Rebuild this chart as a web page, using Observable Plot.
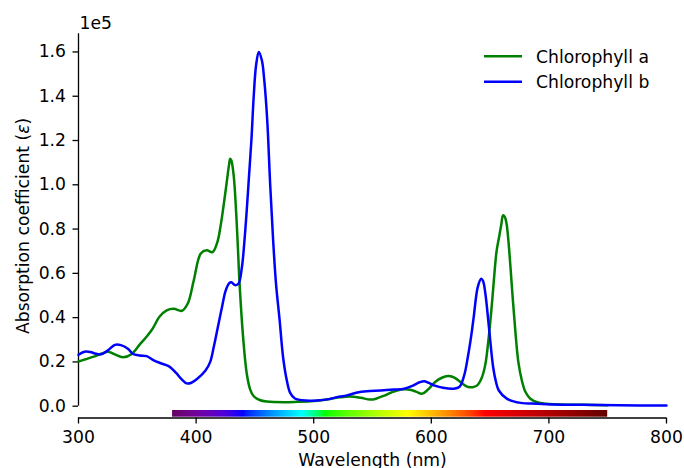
<!DOCTYPE html>
<html><head><meta charset="utf-8">
<script src="https://cdn.jsdelivr.net/npm/d3@7"></script>
<script src="https://cdn.jsdelivr.net/npm/@observablehq/plot@0.6"></script>
<style>body{margin:0;background:#fff;} svg{display:block;}</style>
</head><body><div id="chart"></div>
<script>
// Chlorophyll a (green)
const wlA = [300,306,313,320,325,330,338,345,352,358,363,369,375,381,388,393,398,404,409,414,418,421,424,426,428,429,430,432,434,435.5,437,440,443,446,449,454,460,475,486,500,514,522,531,540,548,553,560,566,571,577,582,587,592,597,602,606,610,615,620,625,630,633,636,639,643,646,649,652,654,655.5,657.5,659.5,661,662.5,664,666,667.3,669.5,671.6,674,677,680,684,690,698,710,730,750];
const chlA = [0.202,0.212,0.224,0.238,0.246,0.236,0.221,0.235,0.278,0.315,0.35,0.405,0.433,0.44,0.431,0.465,0.568,0.69,0.704,0.696,0.74,0.82,0.93,1.01,1.09,1.118,1.11,1.04,0.88,0.72,0.55,0.31,0.15,0.075,0.045,0.028,0.021,0.018,0.02,0.024,0.033,0.04,0.044,0.038,0.03,0.034,0.048,0.062,0.071,0.076,0.074,0.066,0.056,0.074,0.103,0.12,0.131,0.136,0.128,0.108,0.09,0.086,0.087,0.094,0.13,0.19,0.32,0.49,0.62,0.70,0.76,0.82,0.862,0.855,0.824,0.72,0.63,0.47,0.33,0.2,0.116,0.065,0.035,0.018,0.011,0.008,0.006,0.004];
// Chlorophyll b (blue)
const wlB = [300,305,310,314,319,325,331,336,342,346,352,358,364,370,377,383,388,392,396,401,408,412,415,419,422,425,428,430,433,436,439,441,443,445,447,449,451,453.3,456,458,460.5,463,465.5,468,471,474,477,480,484,490,503,514,520,526,531,537,545,557,568,577,584,590,594,598,603,610,619,624,628,631,634,636,639.5,642.4,644,646,649,652.6,655,657.4,664.5,676,690,704,727,760,800];
const chlB = [0.232,0.246,0.245,0.238,0.234,0.252,0.277,0.276,0.26,0.237,0.229,0.226,0.207,0.194,0.18,0.15,0.12,0.103,0.106,0.124,0.161,0.2,0.267,0.37,0.447,0.52,0.555,0.56,0.547,0.553,0.63,0.74,0.88,1.04,1.2,1.40,1.54,1.60,1.56,1.47,1.29,1.0,0.75,0.55,0.39,0.22,0.12,0.06,0.035,0.027,0.026,0.033,0.041,0.046,0.053,0.062,0.068,0.071,0.075,0.079,0.092,0.108,0.113,0.105,0.093,0.083,0.079,0.088,0.14,0.22,0.32,0.40,0.538,0.576,0.565,0.508,0.357,0.176,0.11,0.071,0.033,0.015,0.011,0.008,0.006,0.004,0.003];

const seriesNames = ["Chlorophyll a", "Chlorophyll b"];
const seriesColors = ["green", "blue"];
const xTicks = [300, 400, 500, 600, 700, 800];
const yTicks = [0, 0.2, 0.4, 0.6, 0.8, 1.0, 1.2, 1.4, 1.6];
const spectrumStart = 380, spectrumEnd = 750;

const xDomain = [300, 800];
const yTop = 1.682, yBottom = -0.0533;
const barLow = -0.0497, barHigh = -0.0194;
const FONT = "17.2px";

function wavelengthToRGB(w, gamma = 0.8) {
  let R = 0, G = 0, B = 0;
  if (w >= 380 && w <= 440) {
    const a = 0.3 + 0.7 * (w - 380) / 60;
    R = Math.pow((-(w - 440) / 60) * a, gamma); G = 0; B = Math.pow(a, gamma);
  } else if (w <= 490) {
    R = 0; G = Math.pow((w - 440) / 50, gamma); B = 1;
  } else if (w <= 510) {
    R = 0; G = 1; B = Math.pow(-(w - 510) / 20, gamma);
  } else if (w <= 580) {
    R = Math.pow((w - 510) / 70, gamma); G = 1; B = 0;
  } else if (w <= 645) {
    R = 1; G = Math.pow(-(w - 645) / 65, gamma); B = 0;
  } else if (w <= 750) {
    const a = 0.3 + 0.7 * (750 - w) / 105;
    R = Math.pow(a, gamma); G = 0; B = 0;
  }
  return d3.rgb(R * 255, G * 255, B * 255).formatHex();
}

const dataA = wlA.map((w, i) => ({wl: w, v: chlA[i]}));
const dataB = wlB.map((w, i) => ({wl: w, v: chlB[i]}));

const yLabel = "Absorption coefficient (ε)";

const plot = Plot.plot({
  width: 684,
  height: 468,
  marginLeft: 78,
  marginRight: 18,
  marginTop: 33.3,
  marginBottom: 50.5,
  style: {fontFamily: "'DejaVu Sans'", fontSize: FONT, color: "black", background: "white", overflow: "visible"},
  x: {domain: xDomain},
  y: {domain: [yBottom, yTop]},
  marks: [
    Plot.rect([{x1: spectrumStart, x2: spectrumEnd}], {
      x1: "x1", x2: "x2",
      y1: () => barLow, y2: () => barHigh,
      fill: "url(#spectrumGradient)"
    }),
    Plot.ruleX([300], {y1: 0, y2: yTop, stroke: "black", strokeWidth: 1.3}),
    Plot.ruleY([yBottom], {stroke: "black", strokeWidth: 1.3}),
    Plot.axisX({ticks: xTicks, tickFormat: d => String(d), tickSize: 6, tickPadding: 6.5, label: null, strokeWidth: 1.3}),
    Plot.axisY({ticks: yTicks, tickFormat: d3.format(".1f"), tickSize: 5.5, tickPadding: 7, label: null, strokeWidth: 1.3}),
    Plot.line(dataA, {x: "wl", y: "v", stroke: seriesColors[0], strokeWidth: 2.5, curve: "catmull-rom"}),
    Plot.line(dataB, {x: "wl", y: "v", stroke: seriesColors[1], strokeWidth: 2.5, curve: "catmull-rom"}),
    Plot.text([yLabel], {text: d => d, frameAnchor: "left", dx: -55.5, rotate: -90, lineAnchor: "middle", textAnchor: "middle", fill: "black"}),
    Plot.text(["Wavelength (nm)"], {text: d => d, frameAnchor: "bottom", dy: 47.5, lineAnchor: "bottom", fill: "black"}),
    Plot.text(["1e5"], {text: d => d, frameAnchor: "top-left", dx: 1, dy: -5.3, lineAnchor: "bottom", textAnchor: "start", fill: "black"})
  ]
});

const svg = d3.select(plot);

// spectrum gradient definition
const grad = svg.insert("defs", ":first-child").append("linearGradient")
  .attr("id", "spectrumGradient").attr("x1", "0").attr("x2", "1").attr("y1", "0").attr("y2", "0");
d3.range(spectrumStart, spectrumEnd + 1, 2).forEach(w => {
  grad.append("stop")
    .attr("offset", ((w - spectrumStart) / (spectrumEnd - spectrumStart) * 100).toFixed(3) + "%")
    .attr("stop-color", wavelengthToRGB(w));
});

// italic epsilon in y label
plot.querySelectorAll("text").forEach(t => {
  if (t.textContent === yLabel) {
    t.innerHTML = 'Absorption coefficient (<tspan font-style="italic">ε</tspan>)';
  }
});

// legend
const leg = svg.append("g").attr("font-family", "'DejaVu Sans'").attr("font-size", FONT).attr("text-anchor", "start");
const legY = [56.3, 81.7];
seriesNames.forEach((name, i) => {
  leg.append("line").attr("x1", 484).attr("x2", 522).attr("y1", legY[i]).attr("y2", legY[i])
    .attr("stroke", seriesColors[i]).attr("stroke-width", 2.5);
  leg.append("text").attr("x", 536).attr("y", legY[i] + 6.3).attr("fill", "black").attr("text-anchor", "start").text(name);
});

document.getElementById("chart").appendChild(plot);
</script>
</body></html>
